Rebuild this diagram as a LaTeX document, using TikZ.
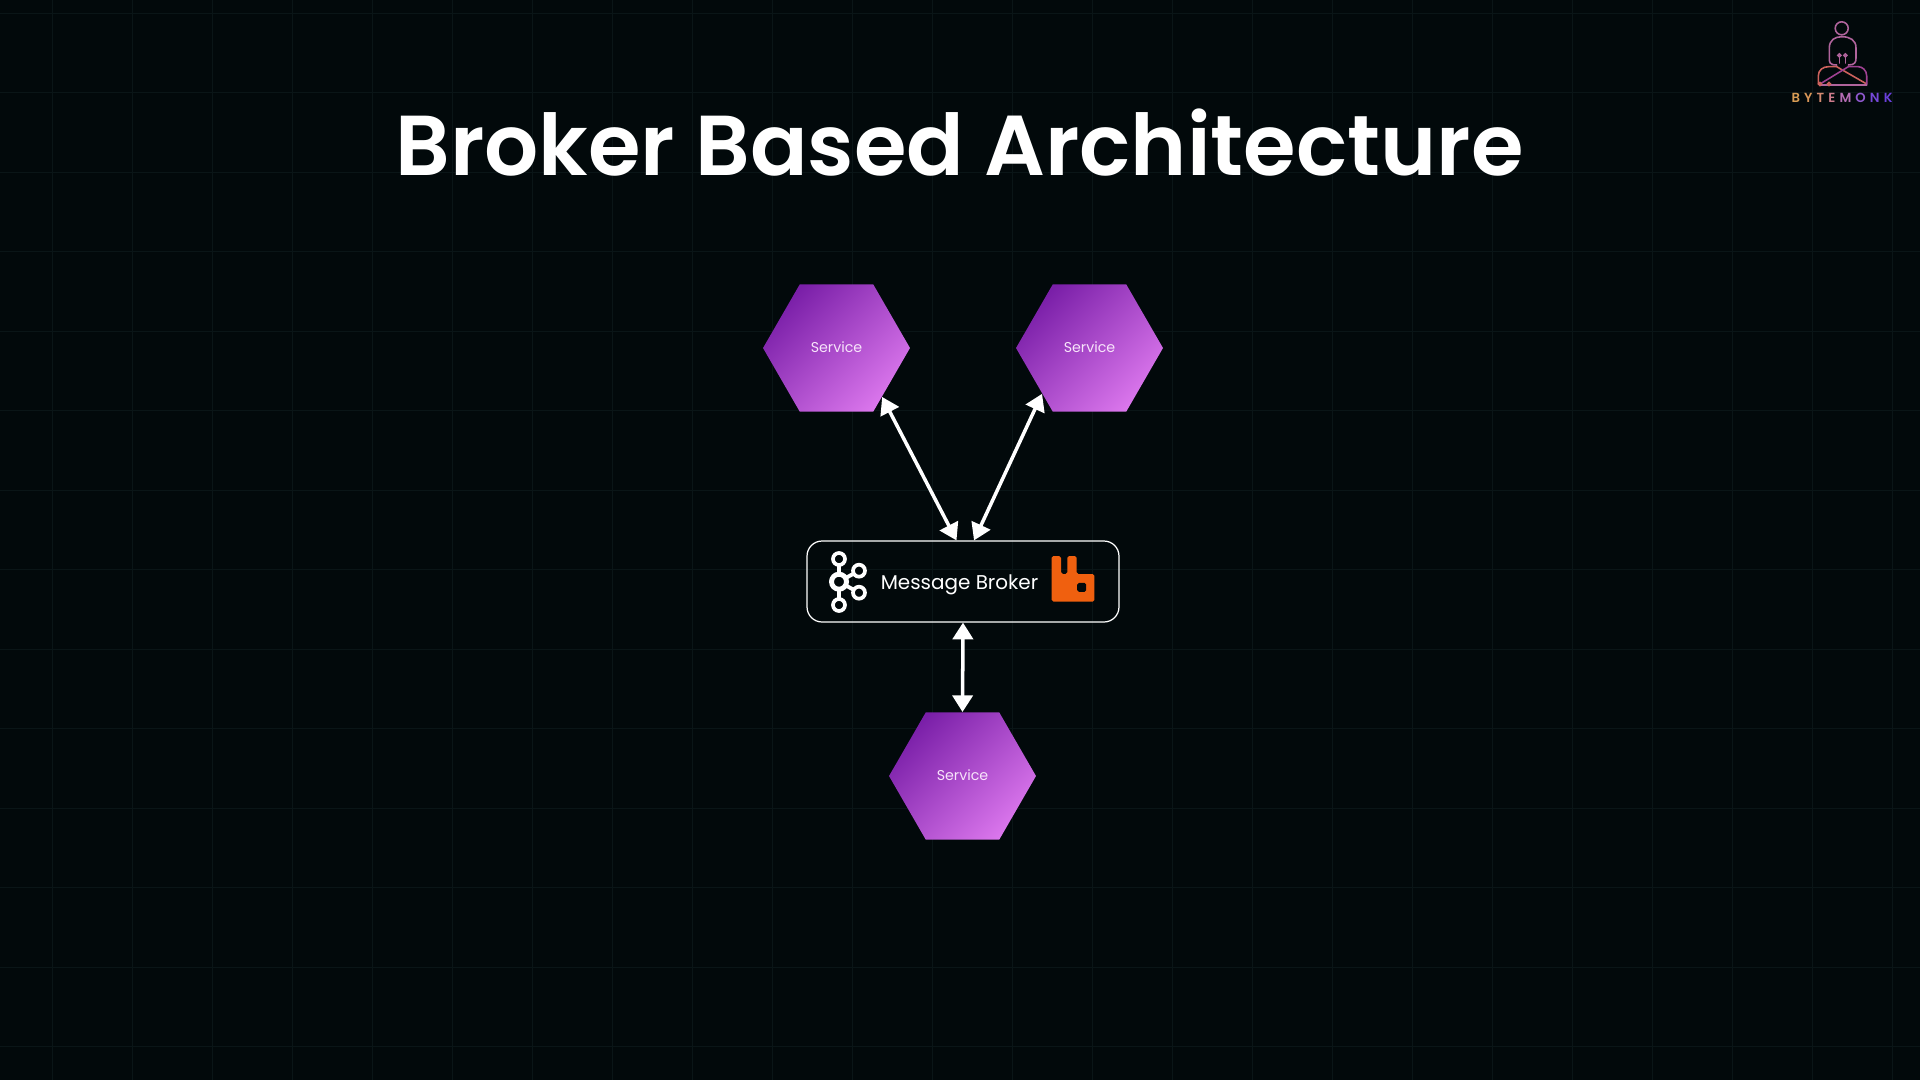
\documentclass[tikz,border=0pt]{standalone}
\usepackage{fontspec}
\usepackage{tikz}
\usetikzlibrary{arrows.meta,shapes.geometric}
\setmainfont{Poppins}[BoldFont={* SemiBold}]

\definecolor{bgdark}{HTML}{02090B}
\definecolor{gridline}{HTML}{0A1517}
\definecolor{hexdark}{HTML}{7A1FA8}
\definecolor{hexlight}{HTML}{DA76EC}
\definecolor{rabbit}{HTML}{F0600F}
\definecolor{logopink}{HTML}{B0649C}

\tikzset{
  service/.style={regular polygon,regular polygon sides=6,minimum size=2.94cm,inner sep=0pt,
    top color=hexdark,bottom color=hexlight,shading angle=45,text=white!80!hexlight,
    font=\fontsize{8.1}{10}\selectfont},
  brokerbox/.style={draw=white,line width=0.7pt,rounded corners=0.3cm,minimum width=6.24cm,
    minimum height=1.62cm,inner sep=0pt},
  link/.style={white,line width=2pt,{Triangle[width=11.5pt,length=9.5pt]}-{Triangle[width=11.5pt,length=9.5pt]}},
  ring/.style={draw=white,fill=bgdark,line width=2.1pt},
  logoline/.style={line width=0.9pt,line cap=round}
}

\begin{document}
\begin{tikzpicture}[x=0.02cm,y=-0.02cm]
\useasboundingbox (0,0) rectangle (1920,1079.6);
\fill[bgdark] (-5,-5) rectangle (1925,1085);

\foreach \x in {0,...,23} \draw[gridline,line width=0.4pt] (52+80*\x,0) -- (52+80*\x,1080);
\foreach \y in {0,...,13} \draw[gridline,line width=0.4pt] (0,13+79.5*\y) -- (1920,13+79.5*\y);

\node[white] (title) at (959.5,142.5) {\fontsize{48.4}{58}\selectfont\bfseries Broker Based Architecture};

\node[service] (svcleft) at (836.5,348) {\raisebox{1.2pt}{Service}};
\node[service] (svcright) at (1089.5,348) {\raisebox{1.2pt}{Service}};
\node[service] (svcbottom) at (962.5,776) {\raisebox{1.2pt}{Service}};

\node[brokerbox] (broker) at (963,581.5) {};
\node[white] (brokertext) at (959.5,584.5) {\fontsize{11.35}{13}\selectfont Message Broker};

\draw[link] (svcleft.-47.6) -- (broker.99);
\draw[link] (svcright.224) -- (broker.75.8);
\draw[link] (broker.south) -- (svcbottom.north);

\draw[white,line width=2.2pt] (839,559) -- (839,605);
\draw[white,line width=2.2pt] (859,570.7) -- (839,581.7) -- (859,592.7);
\draw[ring] (839,559) circle (6);
\draw[ring] (839,605) circle (6);
\draw[ring] (859,570.7) circle (6);
\draw[ring] (859,592.7) circle (6);
\draw[ring,line width=2.8pt] (839,581.7) circle (7.5);

\fill[rabbit,rounded corners=1pt] (1051.7,556) -- (1061,556) -- (1061,574) -- (1067.3,574) -- (1067.3,556)
  -- (1076.7,556) -- (1076.7,574) -- (1094.3,574) -- (1094.3,601.7) -- (1051.7,601.7) -- cycle;
\fill[bgdark,rounded corners=1pt] (1077.2,582.8) rectangle (1086.2,591.8);

\draw[logopink,logoline] (1841.7,28.3) circle (6.5);
\draw[logopink,logoline] (1836.7,65) .. controls (1829.3,65) and (1829.3,62) .. (1829.3,58) -- (1829.3,48)
  .. controls (1829.3,40) and (1835,36.7) .. (1841.7,36.7) .. controls (1850,36.7) and (1856,40) .. (1856,48)
  -- (1856,58) .. controls (1856,62) and (1855,65) .. (1848.3,65);
\draw[logopink,logoline] (1839.3,57) -- (1839.3,63) (1845.3,57) -- (1845.3,63);
\draw[logopink,logoline] (1839.3,55.4) circle (1.5) (1845.3,55.4) circle (1.5);
\draw[rabbit!45!logopink,logoline] (1818.3,84) -- (1818.3,76) .. controls (1818.3,70) and (1823,66.7) .. (1828.3,66.7)
  -- (1836.7,66.7) -- (1866.7,84);
\draw[violet!35!logopink,logoline] (1866.7,84) -- (1866.7,76) .. controls (1866.7,70) and (1862,66.7) .. (1858.3,66.7)
  -- (1848.3,66.7) -- (1820,84);
\draw[logopink,logoline] (1820,85) -- (1866.7,85);
\draw[rabbit!45!logopink,logoline] (1820,84) circle (1.6) (1829,84) circle (1.6);

\node (logotext) at (1842,98) {\fontsize{7.5}{9}\selectfont\bfseries
  \textcolor[HTML]{D89C54}{B}\kern2.35pt\textcolor[HTML]{D79558}{Y}\kern2.35pt\textcolor[HTML]{D48A70}{T}\kern2.35pt\textcolor[HTML]{CE7C8C}{E}\kern2.35pt%
  \textcolor[HTML]{B46CB4}{M}\kern2.35pt\textcolor[HTML]{8E58CC}{O}\kern2.35pt\textcolor[HTML]{7548D8}{N}\kern2.35pt\textcolor[HTML]{6A40DC}{K}};
\end{tikzpicture}
\end{document}
